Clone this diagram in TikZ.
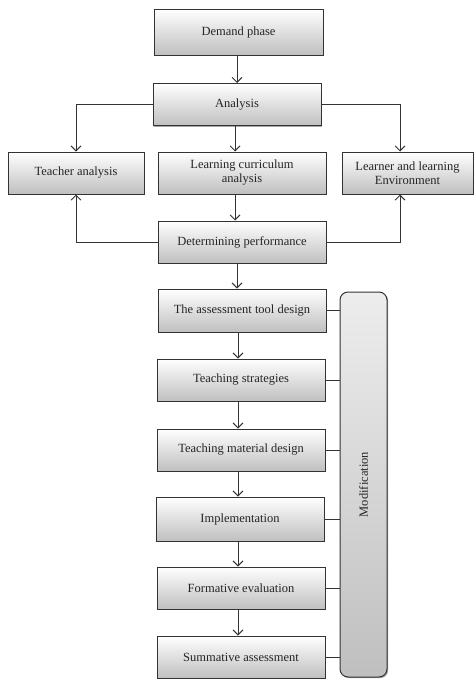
\documentclass[tikz,border=0pt]{standalone}
\usepackage{fontspec}
\setmainfont{Liberation Serif}
\usetikzlibrary{arrows.meta,shadows}
\begin{document}
\begin{tikzpicture}[x=1pt,y=-1pt,
  box/.style={draw=black!80, line width=1pt, top color=white, bottom color=black!25,
    minimum width=168pt, minimum height=42pt, inner sep=1pt, align=center,
    font=\fontsize{12.5}{14}\selectfont, text=black!85,
    drop shadow={shadow xshift=1.2pt, shadow yshift=-1.2pt, opacity=0.35, fill=black}},
  arr/.style={draw=black!80, line width=0.9pt, -{Straight Barb[length=5pt,width=10pt,line width=0.9pt]}},
  ln/.style={draw=black!80, line width=0.9pt}]
\useasboundingbox (0,0) rectangle (475,680);
\node[box, minimum width=169pt, minimum height=46pt] (dem) at (238.5,32) {Demand phase};
\node[box] (ana) at (237,104.5) {Analysis};
\node[box, minimum width=136pt] (tea) at (76,173) {Teacher analysis};
\node[box] (cur) at (242,173) {Learning curriculum\\analysis};
\node[box, minimum width=131pt] (lea) at (407.5,173) {Learner and learning\\Environment};
\node[box] (det) at (242,242) {Determining performance};
\node[box, minimum height=43pt] (ass) at (242,310.5) {The assessment tool design};
\node[box] (str) at (241,380) {Teaching strategies};
\node[box] (mat) at (241,450) {Teaching material design};
\node[box, minimum height=44pt] (imp) at (240,519) {Implementation};
\node[box] (for) at (241,588) {Formative evaluation};
\node[box] (sum) at (241,657) {Summative assessment};
\node[box, minimum width=47pt, minimum height=385pt, rounded corners=8pt,
  top color=black!7, bottom color=black!25] (mod) at (363.5,484.5) {};
\node[rotate=90, font=\fontsize{12.5}{14}\selectfont, text=black!85] (modt) at (mod.center) {Modification};

\draw[arr] (dem.south -| 237,0) -- (ana.north -| 237,0);
\draw[arr] (ana.south -| 235,0) -- (cur.north -| 235,0);
\draw[arr] (cur.south -| 235,0) -- (det.north -| 235,0);
\draw[arr] (det.south -| 237,0) -- (ass.north -| 237,0);
\draw[arr] (ass.south -| 238,0) -- (str.north -| 238,0);
\draw[arr] (str.south -| 238,0) -- (mat.north -| 238,0);
\draw[arr] (mat.south -| 238,0) -- (imp.north -| 238,0);
\draw[arr] (imp.south -| 238,0) -- (for.north -| 238,0);
\draw[arr] (for.south -| 238,0) -- (sum.north -| 238,0);

\draw[arr] (ana.west) -| (tea.north);
\draw[arr] (ana.east) -| (lea.north -| 400,0);
\draw[arr] (det.west) -| (tea.south);
\draw[arr] (det.east) -| (lea.south -| 400,0);

\foreach \n in {ass,str,mat,imp,for,sum}
  \draw[ln] (\n.east) -- (\n.east -| mod.west);
\end{tikzpicture}
\end{document}
